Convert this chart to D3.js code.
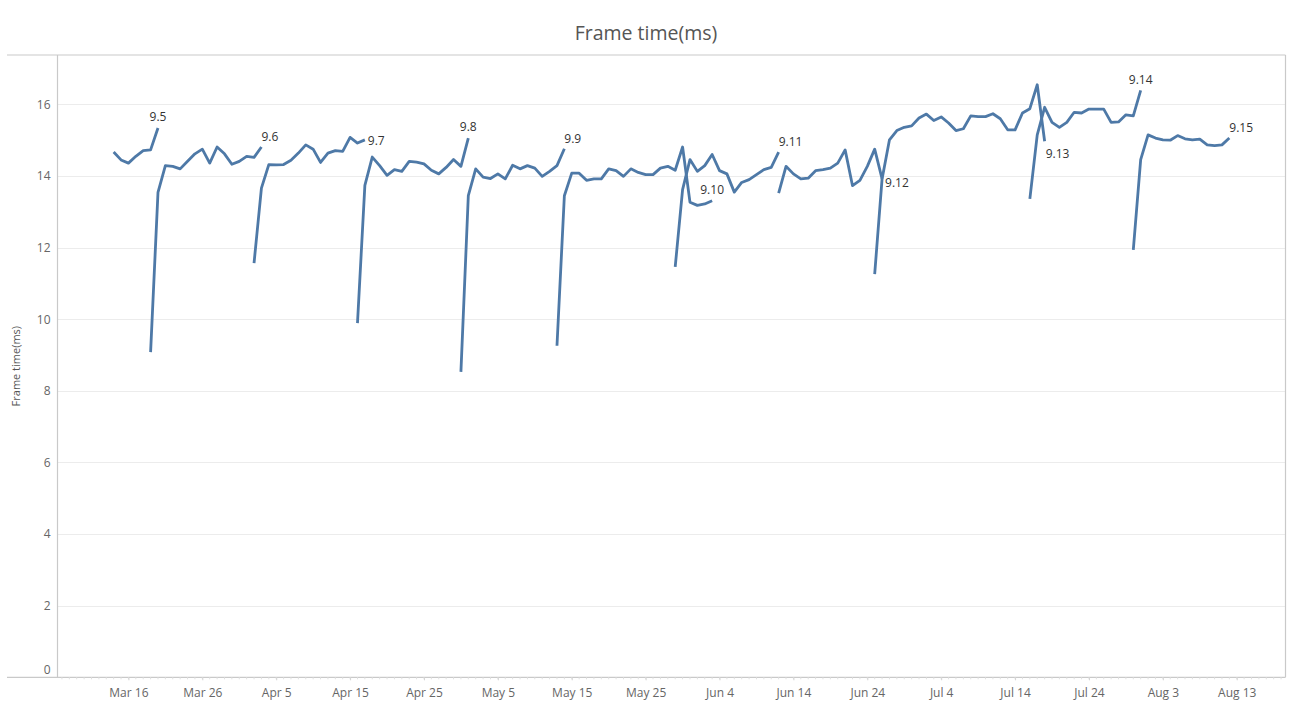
<!DOCTYPE html>
<html>
<head>
<meta charset="utf-8">
<script src="https://cdn.jsdelivr.net/npm/d3@7"></script>
<style>
  body { margin: 0; background: #fff; }
  svg { display: block; font-family: "Open Sans", "Noto Sans", sans-serif; }
</style>
</head>
<body>
<script>
'use strict';

// --- data, one value per day ---
const versions = ["9.5", "9.6", "9.7", "9.8", "9.9", "9.10", "9.11", "9.12", "9.13", "9.14", "9.15"];
const startDates = ["2017-03-14", "2017-03-19", "2017-04-02", "2017-04-16", "2017-04-30", "2017-05-13",
                    "2017-05-29", "2017-06-12", "2017-06-25", "2017-07-16", "2017-07-30"];

const v95  = [14.67, 14.45, 14.36, 14.55, 14.71, 14.73, 15.34];
const v96  = [9.08, 13.54, 14.29, 14.27, 14.20, 14.41, 14.62, 14.75, 14.36, 14.81, 14.62, 14.33, 14.41, 14.55, 14.52, 14.81];
const v97  = [11.57, 13.66, 14.32, 14.31, 14.32, 14.44, 14.64, 14.87, 14.75, 14.38, 14.64, 14.71, 14.69, 15.08, 14.92, 15.01];
const v98  = [9.89, 13.74, 14.53, 14.29, 14.02, 14.18, 14.13, 14.41, 14.39, 14.34, 14.16, 14.06, 14.24, 14.46, 14.27, 15.06];
const v99  = [8.53, 13.45, 14.20, 13.97, 13.93, 14.06, 13.92, 14.30, 14.20, 14.29, 14.22, 13.99, 14.13, 14.29, 14.76];
const v910 = [9.26, 13.45, 14.08, 14.08, 13.88, 13.92, 13.92, 14.20, 14.15, 13.99, 14.20, 14.10, 14.04, 14.04, 14.22,
              14.27, 14.16, 14.81, 13.27, 13.18, 13.22, 13.31];
const v911 = [11.46, 13.62, 14.46, 14.13, 14.29, 14.60, 14.15, 14.06, 13.55, 13.82, 13.90, 14.04, 14.18, 14.24, 14.67];
const v912 = [13.52, 14.27, 14.06, 13.92, 13.94, 14.15, 14.18, 14.22, 14.36, 14.73, 13.73, 13.88, 14.27, 14.75, 13.92];
const v913 = [11.26, 13.92, 15.01, 15.27, 15.36, 15.40, 15.62, 15.73, 15.55, 15.65, 15.48, 15.27, 15.32, 15.68, 15.66,
              15.66, 15.74, 15.60, 15.29, 15.29, 15.76, 15.88, 16.55, 14.97];
const v914 = [13.36, 15.15, 15.92, 15.50, 15.36, 15.50, 15.78, 15.76, 15.87, 15.87, 15.87, 15.50, 15.51, 15.71, 15.68, 16.39];
const v915 = [11.94, 14.46, 15.15, 15.06, 15.01, 15.00, 15.13, 15.04, 15.01, 15.03, 14.87, 14.85, 14.87, 15.06];
const seriesValues = [v95, v96, v97, v98, v99, v910, v911, v912, v913, v914, v915];

const xTickLabels = ["Mar 16", "Mar 26", "Apr 5", "Apr 15", "Apr 25", "May 5", "May 15", "May 25",
                     "Jun 4", "Jun 14", "Jun 24", "Jul 4", "Jul 14", "Jul 24", "Aug 3", "Aug 13"];
const yTicks = [0, 2, 4, 6, 8, 10, 12, 14, 16];

// where each end label sits relative to the last point
const labelPlace = ["top", "topright", "right", "top", "topright", "top", "topright", "right", "bottomright", "top", "topright"];

// --- layout ---
const width = 1290, height = 708;
const plot = { left: 57.5, right: 1285.5, top: 55, bottom: 677.3 };
const lineColor = "#4e79a7";

const parseDay = d3.timeParse("%Y-%m-%d");
const parseTick = d3.timeParse("%b %d %Y");

// build rows per version
const series = versions.map((v, i) => {
  let start = parseDay(startDates[i]);
  return {
    version: v,
    values: seriesValues[i].map((val, k) => ({ date: d3.timeDay.offset(start, k), value: val }))
  };
});

const svg = d3.select("body").append("svg")
  .attr("width", width)
  .attr("height", height);

// x scale: data extent padded a little on both sides
let allDates = series.flatMap(s => s.values.map(d => d.date));
let dateExtent = d3.extent(allDates);
const padMs = 7.6 * 864e5;
const xScale = d3.scaleTime()
  .domain([new Date(+dateExtent[0] - padMs), new Date(+dateExtent[1] + padMs)])
  .range([plot.left, plot.right]);

const yScale = d3.scaleLinear()
  .domain([0, 17.38])
  .range([plot.bottom, plot.top]);

// title
svg.append("text")
  .attr("x", 646)
  .attr("y", 40)
  .attr("text-anchor", "middle")
  .style("font-size", "19.5px")
  .style("fill", "#555")
  .text("Frame time(ms)");

// gridlines
svg.append("g")
  .selectAll("line")
  .data(yTicks.filter(t => t > 0))
  .enter()
  .append("line")
    .attr("x1", plot.left)
    .attr("x2", plot.right)
    .attr("y1", d => Math.round(yScale(d)) + 0.5)
    .attr("y2", d => Math.round(yScale(d)) + 0.5)
    .attr("stroke", "#ececec")
    .attr("stroke-width", 1);

// frame lines (top divider, bottom, right edge, left axis)
const frame = svg.append("g").attr("stroke", "#c9c9c9").attr("stroke-width", 1.2);
frame.append("line").attr("x1", 7).attr("x2", plot.right).attr("y1", plot.top).attr("y2", plot.top);
frame.append("line").attr("x1", 7).attr("x2", plot.right).attr("y1", plot.bottom).attr("y2", plot.bottom);
frame.append("line").attr("x1", plot.right).attr("x2", plot.right).attr("y1", plot.top).attr("y2", plot.bottom);
frame.append("line").attr("x1", plot.left).attr("x2", plot.left).attr("y1", plot.top).attr("y2", plot.bottom);

// y axis labels
let yAxis = d3.axisLeft(yScale).tickValues(yTicks).tickSize(0).tickPadding(7);
let gy = svg.append("g")
  .attr("transform", `translate(${plot.left}, 0)`)
  .call(yAxis);
gy.select(".domain").remove();
gy.selectAll("text")
  .style("font-size", "12px")
  .style("font-family", "'Open Sans', sans-serif")
  .style("fill", "#666")
  .attr("dy", d => d === 0 ? "-0.32em" : "0.32em");

// y axis title
svg.append("text")
  .attr("transform", `translate(20, ${(plot.top + plot.bottom) / 2}) rotate(-90)`)
  .attr("text-anchor", "middle")
  .style("font-size", "11px")
  .style("fill", "#555")
  .text("Frame time(ms)");

// x axis: daily minor ticks, labelled ticks every 10 days
let minorDays = d3.timeDay.range(d3.timeDay.ceil(xScale.domain()[0]), xScale.domain()[1]);
svg.append("g")
  .selectAll("line")
  .data(minorDays)
  .enter()
  .append("line")
    .attr("x1", d => xScale(d))
    .attr("x2", d => xScale(d))
    .attr("y1", plot.bottom)
    .attr("y2", plot.bottom + 2)
    .attr("stroke", "#e0e0e0");

let tickDates = xTickLabels.map(t => parseTick(t + " 2017"));
let xAxis = d3.axisBottom(xScale)
  .tickValues(tickDates)
  .tickFormat(d3.timeFormat("%b %-d"))
  .tickSize(3)
  .tickPadding(8);
let gx = svg.append("g")
  .attr("transform", `translate(0, ${plot.bottom})`)
  .call(xAxis);
gx.select(".domain").remove();
gx.selectAll(".tick line").attr("stroke", "#d4d4d4");
gx.selectAll("text")
  .style("font-size", "12px")
  .style("font-family", "'Open Sans', sans-serif")
  .style("fill", "#666");

// lines
const line = d3.line()
  .x(d => xScale(d.date))
  .y(d => yScale(d.value));

svg.append("g")
  .selectAll("path")
  .data(series)
  .enter()
  .append("path")
    .attr("d", d => line(d.values))
    .attr("fill", "none")
    .attr("stroke", lineColor)
    .attr("stroke-width", 2.8)
    .attr("stroke-linejoin", "round")
    .attr("stroke-linecap", "butt");

// end labels
const placeOffsets = {
  top:         { dx: 0,  dy: -11, anchor: "middle" },
  topright:    { dx: 0,  dy: -10, anchor: "start" },
  right:       { dx: 3,  dy: 1,   anchor: "start" },
  bottomright: { dx: 1,  dy: 13,  anchor: "start" }
};

svg.append("g")
  .selectAll("text")
  .data(series)
  .enter()
  .append("text")
    .each(function(d, i) {
      let last = d.values[d.values.length - 1];
      let p = placeOffsets[labelPlace[i]];
      let extra = (d.version === "9.12") ? 3 : 0;
      d3.select(this)
        .attr("x", xScale(last.date) + p.dx)
        .attr("y", yScale(last.value) + p.dy + extra)
        .attr("dy", "0.35em")
        .attr("text-anchor", p.anchor);
    })
    .style("font-size", "12px")
    .style("fill", "#333")
    .text(d => d.version);
</script>
</body>
</html>
